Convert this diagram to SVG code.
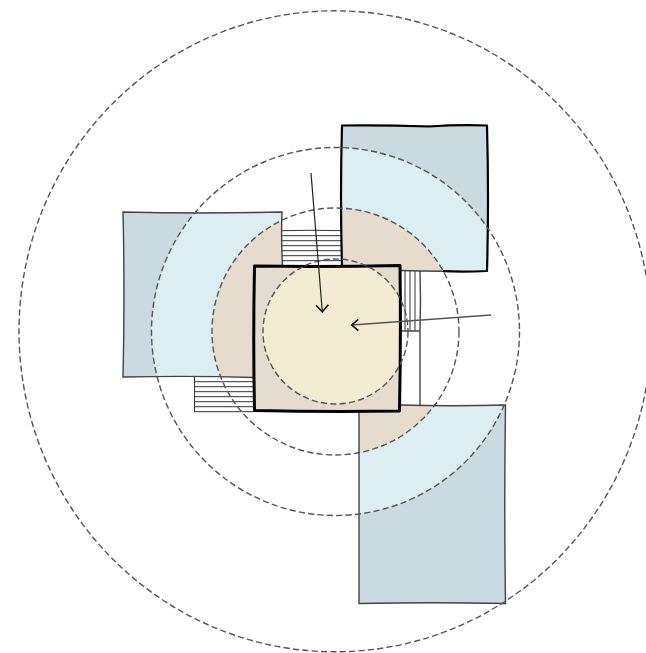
<svg xmlns="http://www.w3.org/2000/svg" width="646" height="653" viewBox="0 0 646 653">
<style>
.ring{fill:none;stroke:#555;stroke-width:1.4;stroke-dasharray:6.200 3.200}
.b{fill:#cbd9e0}.l{fill:#dceef1}.t{fill:#e5dccf}.c{fill:#f4ecd2}
.soft{fill:none;stroke:#444;stroke-width:1.4}
.thick{fill:none;stroke:#000;stroke-width:2.2;stroke-linejoin:round}
.heavy{fill:none;stroke:#000;stroke-width:3;stroke-linejoin:round}
.h{fill:none;stroke:#333;stroke-width:1}
.arr{fill:none;stroke:#222;stroke-width:1.2}
.arr2{fill:none;stroke:#555;stroke-width:1.5}
.head{fill:none;stroke:#111;stroke-width:1.6}
</style>
<defs>
<clipPath id="cl"><path d="M123 212H282V377H123Z"/></clipPath>
<clipPath id="ct"><path d="M342 125H487V271H342Z"/></clipPath>
<clipPath id="cb"><path d="M359 405H505V603H359Z"/></clipPath>
<clipPath id="cc"><path d="M254 265H400V411H254Z"/></clipPath>
</defs>
<g id="hatch-top">
<path class="h" d="M282 230.700Q312 229.800 342 230.700M282 235.700H342M282 240.700H342M282 245.700H342M282 250.700H342M282 255.700H342M282 260.700H342"/>
</g>
<g id="hatch-left">
<path class="h" d="M194 381.700H254M194 386.700H254M194 391.700H254M194 396.700H254M194 401.700H254M194 406.700H254M194 411.700H254M194.500 377V412"/>
</g>
<g id="hatch-right">
<path class="h" d="M405 271V331M410 271V331M415 271V331"/>
<path class="soft" d="M420 271Q421 300 420 331V405M401 331H420"/>
</g>
<g id="room-left">
<rect class="b" x="123" y="212" width="159" height="165"/>
<g clip-path="url(#cl)"><circle class="l" cx="335.500" cy="331.500" r="184"/><circle class="t" cx="335.500" cy="331.500" r="123.500"/></g>
<path class="soft" d="M282.500 265Q281 238 282 212Q200 214 123 212Q125 295 123 377Q190 375.500 254 377.500"/>
</g>
<g id="room-top">
<rect class="b" x="342" y="125" width="145" height="146"/>
<g clip-path="url(#ct)"><circle class="l" cx="335.500" cy="331.500" r="184"/><circle class="t" cx="335.500" cy="331.500" r="123.500"/></g>
<path class="thick" d="M342 265Q340 195 342 125.500Q385 125 429 126.500Q458 124.500 487 125.500Q489 198 487 271Q465 272 443 271.200"/>
<path class="soft" d="M443 271.200Q420 271 400 270.500"/>
</g>
<g id="room-bottom">
<rect class="b" x="359" y="405" width="146" height="198"/>
<g clip-path="url(#cb)"><circle class="l" cx="335.500" cy="331.500" r="184"/><circle class="t" cx="335.500" cy="331.500" r="123.500"/></g>
<path class="soft" d="M359 411V603.500Q432 602 505.500 603.500Q504 504 505.500 405Q450 406.500 400 405"/>
</g>
<g id="core">
<rect class="t" x="254" y="265" width="146" height="146"/>
<g clip-path="url(#cc)"><circle class="c" cx="335.500" cy="331.500" r="72.500"/></g>
<path class="heavy" d="M254.500 266Q327 267 400 265.500Q401 338 399.500 411Q327 412 254.500 410.500Q253 338 254.500 266Z"/>
</g>
<g id="rings">
<circle class="ring" cx="335.500" cy="331.500" r="72.500"/>
<circle class="ring" cx="335.500" cy="331.500" r="123.500"/>
<circle class="ring" cx="335.500" cy="331.500" r="184"/>
<ellipse class="ring" cx="335" cy="331.300" rx="316" ry="320.500"/>
</g>
<g id="connectors">
<path class="arr" d="M311 173L322.300 311.700"/>
<path class="head" d="M316 305.300L322.300 311.700L328.300 304.700"/>
<path class="arr2" d="M491 315L352 325"/>
<path class="head" d="M358.300 319.300L351.700 325L358.300 330.700"/>
</g>
</svg>
